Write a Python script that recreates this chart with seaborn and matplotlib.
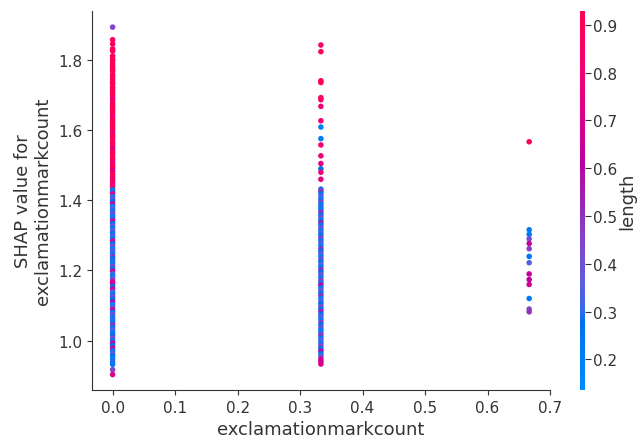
import numpy as np
import pandas as pd
import matplotlib
matplotlib.use("Agg")
import matplotlib.pyplot as plt
from matplotlib.colors import LinearSegmentedColormap, Normalize
from matplotlib.cm import ScalarMappable
import seaborn as sns

# ---------------- data ----------------
feature_name = "exclamationmarkcount"
color_name = "length"

x_levels = [0.0, 1 / 3, 2 / 3]

shap_at_0 = [1.894, 1.858, 1.846, 1.832, 1.826, 1.812, 1.803, 1.797, 1.789, 1.781, 1.774, 1.768,
             1.759, 1.752, 1.744, 1.737, 1.731, 1.722, 1.716, 1.709, 1.701, 1.694, 1.688, 1.679,
             1.672, 1.664, 1.657, 1.651, 1.643, 1.636, 1.628, 1.621, 1.613, 1.606, 1.598, 1.591,
             1.584, 1.577, 1.568, 1.561, 1.553, 1.546, 1.538, 1.531, 1.522, 1.515, 1.507, 1.499,
             1.492, 1.484, 1.476, 1.468, 1.461, 1.453, 1.446, 1.438,
             1.430, 1.424, 1.418, 1.410, 1.403, 1.397, 1.390, 1.383, 1.376, 1.369, 1.362, 1.355,
             1.348, 1.341, 1.334, 1.327, 1.320, 1.312, 1.305, 1.298, 1.291, 1.284, 1.277, 1.270,
             1.262, 1.255, 1.248, 1.241, 1.234, 1.226, 1.219, 1.212, 1.205, 1.198, 1.190, 1.183,
             1.176, 1.168, 1.161, 1.154, 1.147, 1.139, 1.132, 1.125, 1.118, 1.110, 1.103, 1.096,
             1.088, 1.081, 1.074, 1.066, 1.059, 1.052, 1.045, 1.037, 1.030, 1.022, 1.015, 1.008,
             1.000, 0.993, 0.986, 0.978, 0.971, 0.963, 0.956, 0.948, 0.940, 0.932, 0.917, 0.903]
length_at_0 = [0.45, 0.85, 0.88, 0.90, 0.87, 0.92, 0.90, 0.86, 0.91, 0.93, 0.88, 0.90,
               0.84, 0.92, 0.90, 0.87, 0.93, 0.89, 0.91, 0.85, 0.92, 0.90, 0.78, 0.91,
               0.88, 0.93, 0.86, 0.90, 0.92, 0.80, 0.91, 0.89, 0.93, 0.87, 0.90, 0.75,
               0.92, 0.88, 0.91, 0.86, 0.90, 0.72, 0.89, 0.92, 0.85, 0.90, 0.78, 0.88,
               0.91, 0.70, 0.87, 0.90, 0.82, 0.88, 0.75, 0.85,
               0.25, 0.30, 0.72, 0.22, 0.40, 0.27, 0.68, 0.20, 0.35, 0.24, 0.45, 0.21,
               0.30, 0.70, 0.26, 0.38, 0.22, 0.42, 0.25, 0.33, 0.20, 0.75, 0.28, 0.40,
               0.23, 0.35, 0.21, 0.48, 0.26, 0.30, 0.22, 0.44, 0.25, 0.68, 0.31, 0.21,
               0.40, 0.72, 0.65, 0.24, 0.70, 0.35, 0.22, 0.45, 0.27, 0.60, 0.20, 0.33,
               0.68, 0.25, 0.40, 0.22, 0.30, 0.21, 0.50, 0.24, 0.36, 0.20, 0.28, 0.42,
               0.23, 0.66, 0.27, 0.70, 0.22, 0.38, 0.25, 0.20, 0.30, 0.24, 0.45, 0.72]

shap_at_1 = [1.843, 1.824, 1.741, 1.736, 1.693, 1.687, 1.668, 1.627, 1.609, 1.576, 1.558, 1.527,
             1.505, 1.490, 1.480, 1.460,
             1.432, 1.425, 1.418, 1.410, 1.402, 1.395, 1.388, 1.380, 1.373, 1.366, 1.358, 1.351,
             1.343, 1.336, 1.329, 1.321, 1.314, 1.307, 1.300, 1.292, 1.285, 1.278, 1.270, 1.262,
             1.255, 1.247, 1.240, 1.232, 1.225, 1.217, 1.210, 1.202, 1.195, 1.188, 1.180, 1.172,
             1.165, 1.158, 1.150, 1.143, 1.135, 1.128, 1.120, 1.112, 1.105, 1.097, 1.090, 1.083,
             1.075, 1.068, 1.060, 1.052, 1.045, 1.037, 1.030, 1.022, 1.015, 1.007, 1.000, 0.992,
             0.985, 0.977, 0.970, 0.962, 0.955, 0.947, 0.940, 0.933]
length_at_1 = [0.85, 0.88, 0.92, 0.90, 0.85, 0.87, 0.80, 0.82, 0.20, 0.22, 0.80, 0.78,
               0.75, 0.28, 0.80, 0.76,
               0.30, 0.50, 0.25, 0.35, 0.22, 0.45, 0.24, 0.30, 0.20, 0.50, 0.27, 0.38,
               0.22, 0.55, 0.25, 0.42, 0.21, 0.33, 0.26, 0.48, 0.23, 0.36, 0.20, 0.50,
               0.28, 0.40, 0.22, 0.45, 0.25, 0.35, 0.21, 0.52, 0.27, 0.40, 0.23, 0.47,
               0.30, 0.60, 0.22, 0.38, 0.25, 0.50, 0.20, 0.34, 0.27, 0.45, 0.22, 0.55,
               0.26, 0.36, 0.21, 0.48, 0.25, 0.40, 0.22, 0.30, 0.50, 0.24, 0.35, 0.20,
               0.45, 0.27, 0.60, 0.23, 0.38, 0.70, 0.65, 0.72]

shap_at_2 = [1.567, 1.316, 1.303, 1.290, 1.277, 1.262, 1.240, 1.222, 1.190, 1.174, 1.160,
             1.120, 1.090, 1.082]
length_at_2 = [0.90, 0.22, 0.25, 0.42, 0.65, 0.45, 0.25, 0.35, 0.65, 0.62, 0.68,
               0.22, 0.45, 0.50]

color_range = (0.136, 0.929)
cbar_ticks = [0.2, 0.3, 0.4, 0.5, 0.6, 0.7, 0.8, 0.9]
x_ticks = [0.0, 0.1, 0.2, 0.3, 0.4, 0.5, 0.6, 0.7]
y_ticks = [1.0, 1.2, 1.4, 1.6, 1.8]

# ---------------- SHAP red_blue colormap (LCH interpolation) ----------------
def lab_to_rgb(L, a, b):
    fy = (L + 16.0) / 116.0
    fx = fy + a / 500.0
    fz = fy - b / 200.0
    def finv(t):
        return np.where(t > 6 / 29, t ** 3, 3 * (6 / 29) ** 2 * (t - 4 / 29))
    X = 0.95047 * finv(fx)
    Y = 1.00000 * finv(fy)
    Z = 1.08883 * finv(fz)
    M = np.array([[3.2406, -1.5372, -0.4986],
                  [-0.9689, 1.8758, 0.0415],
                  [0.0557, -0.2040, 1.0570]])
    rgb = M @ np.array([X, Y, Z])
    rgb = np.where(rgb > 0.0031308, 1.055 * np.abs(rgb) ** (1 / 2.4) - 0.055, 12.92 * rgb)
    return np.clip(rgb, 0, 1)

blue_lch = [54.0, 70.0, 4.6588]
red_lch = [54.0, 90.0, 0.35470565 + 2 * np.pi]
l_mid = 40.0
nsteps = 100
l_vals = list(np.linspace(blue_lch[0], l_mid, nsteps // 2)) + list(np.linspace(l_mid, red_lch[0], nsteps // 2))
c_vals = np.linspace(blue_lch[1], red_lch[1], nsteps)
h_vals = np.linspace(blue_lch[2], red_lch[2], nsteps)
cols = [lab_to_rgb(l, c * np.cos(h), c * np.sin(h)) for l, c, h in zip(l_vals, c_vals, h_vals)]
red_blue = LinearSegmentedColormap.from_list("red_blue", cols)

# ---------------- build table ----------------
df = pd.DataFrame({
    feature_name: [x_levels[0]] * len(shap_at_0) + [x_levels[1]] * len(shap_at_1) + [x_levels[2]] * len(shap_at_2),
    "shap": shap_at_0 + shap_at_1 + shap_at_2,
    color_name: length_at_0 + length_at_1 + length_at_2,
})

# ---------------- plot ----------------
txt = "#333333"
fig = plt.figure(figsize=(6.4, 4.39), dpi=100)
ax = fig.add_axes([92 / 640, 1 - 391 / 439, 458 / 640, 379 / 439])
cax = fig.add_axes([580 / 640, 1 - 391 / 439, 4.5 / 640, 379 / 439])

norm = Normalize(*color_range)
sns.scatterplot(data=df, x=feature_name, y="shap", hue=color_name, palette=red_blue,
                hue_norm=norm, s=16, linewidth=0, alpha=1, legend=False, ax=ax)

ax.set_xlim(-0.033, 0.70)
ax.set_ylim(0.859, 1.94)
ax.set_xticks(x_ticks)
ax.set_yticks(y_ticks)
ax.set_xlabel(feature_name, fontsize=13, color=txt)
ax.set_ylabel("SHAP value for\n" + feature_name, fontsize=13, color=txt)
ax.spines["top"].set_visible(False)
ax.spines["right"].set_visible(False)
ax.spines["left"].set_color(txt)
ax.spines["bottom"].set_color(txt)
ax.tick_params(labelsize=11, colors=txt, labelcolor=txt)

sm = ScalarMappable(norm=norm, cmap=red_blue)
cb = fig.colorbar(sm, cax=cax)
cb.set_ticks(cbar_ticks)
cb.set_label(color_name, size=13, color=txt, labelpad=1)
cb.ax.tick_params(labelsize=11, colors=txt, labelcolor=txt, length=4, pad=2)
cb.outline.set_visible(False)

fig.savefig("out.png", dpi=100)
